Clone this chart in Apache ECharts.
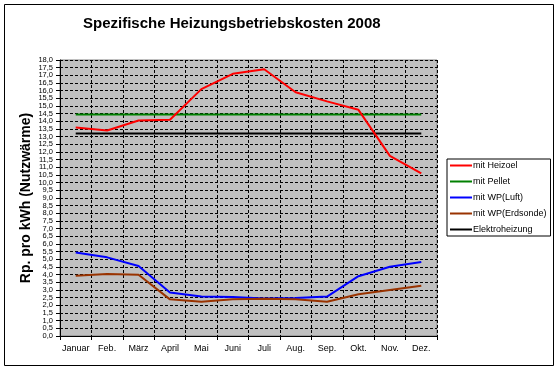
<!DOCTYPE html>
<html>
<head>
<meta charset="utf-8">
<script src="https://cdn.jsdelivr.net/npm/echarts@6/dist/echarts.min.js"></script>
<style>html,body{margin:0;padding:0;background:#fff}#c{width:560px;height:372px}</style>
</head>
<body>
<div id="c"></div>
<script>
var months = ['Januar','Feb.','März','April','Mai','Juni','Juli','Aug.','Sep.','Okt.','Nov.','Dez.'];
var heizoel = [13.6, 13.4, 14.05, 14.1, 16.1, 17.1, 17.4, 15.9, 15.3, 14.75, 11.75, 10.6];
var pellet = [14.45, 14.45, 14.45, 14.45, 14.45, 14.45, 14.45, 14.45, 14.45, 14.45, 14.45, 14.45];
var wpLuft = [5.45, 5.13, 4.57, 2.83, 2.57, 2.54, 2.45, 2.48, 2.57, 3.9, 4.52, 4.83];
var wpErd = [3.93, 4.04, 4.0, 2.39, 2.24, 2.39, 2.43, 2.39, 2.24, 2.72, 3.0, 3.28];
var elektro = [13.2, 13.2, 13.2, 13.2, 13.2, 13.2, 13.2, 13.2, 13.2, 13.2, 13.2, 13.2];
var seriesNames = ['mit Heizoel','mit Pellet','mit WP(Luft)','mit WP(Erdsonde)','Elektroheizung'];
var seriesColors = ['#ff0000','#008000','#0000ff','#993300','#000000'];
var seriesData = [heizoel, pellet, wpLuft, wpErd, elektro];
var yMin = 0, yMax = 18, yStep = 0.5;
var nearEnds = [yMin + yStep, yMax - yStep];

var chart = echarts.init(document.getElementById('c'), null, {renderer:'canvas'});
var font = 'Liberation Sans, Arial, sans-serif';
function fmt(v){ return v.toFixed(1).replace('.', ','); }
function isNearEnd(v){ return nearEnds.some(function(n){ return Math.abs(n - v) < 1e-6; }); }
chart.setOption({
  animation: false,
  backgroundColor: '#ffffff',
  title: {
    text: 'Spezifische Heizungsbetriebskosten 2008',
    left: 83, top: 16, padding: 0,
    textStyle: {fontFamily: font, fontSize: 15, fontWeight: 'bold', color: '#000'}
  },
  graphic: [{
    type: 'rect', shape: {x: 4.5, y: 4.5, width: 549, height: 361},
    style: {fill: 'none', stroke: '#000', lineWidth: 1}, z: 100
  }],
  legend: {
    orient: 'vertical', left: 447, top: 159,
    data: seriesNames,
    icon: 'rect', itemWidth: 22, itemHeight: 2, itemGap: 7,
    padding: [2, 4, 2, 3],
    borderColor: '#000', borderWidth: 1, backgroundColor: '#fff',
    textStyle: {fontFamily: font, fontSize: 9, color: '#000', padding: [0,0,0,-4]}
  },
  grid: {
    left: 60, top: 60, right: 123, bottom: 36,
    show: true, backgroundColor: '#c0c0c0', borderColor: '#808080', borderWidth: 1
  },
  xAxis: {
    type: 'category', data: months, boundaryGap: true,
    axisLine: {lineStyle: {color: '#000', width: 1}},
    axisTick: {show: true, length: 4, interval: 0, lineStyle: {color: '#000'}},
    axisLabel: {fontFamily: font, fontSize: 9, color: '#000', margin: 8, interval: 0},
    splitLine: {show: true, interval: 0, lineStyle: {color: '#000', type: [3,2], width: 1}}
  },
  yAxis: [{
    type: 'value', min: yMin, max: yMax, interval: yStep,
    name: 'Rp. pro kWh (Nutzwärme)', nameLocation: 'middle', nameGap: 27,
    nameMoveOverlap: false,
    nameTextStyle: {fontFamily: font, fontSize: 14, fontWeight: 'bold', color: '#000'},
    axisLine: {show: true, lineStyle: {color: '#000', width: 1}},
    axisTick: {show: true, length: 4, lineStyle: {color: '#000'}},
    axisLabel: {fontFamily: font, fontSize: 7.5, color: '#000', margin: 7,
      showMinLabel: true, showMaxLabel: true,
      formatter: function(v){ return isNearEnd(v) ? '' : fmt(v); }},
    splitLine: {show: true, lineStyle: {color: '#000', type: [3,2], width: 1}}
  }, {
    type: 'value', min: yMin, max: yMax, interval: yStep, position: 'left',
    axisLine: {show: false}, axisTick: {show: false}, splitLine: {show: false},
    axisLabel: {fontFamily: font, fontSize: 7.5, color: '#000', margin: 7,
      formatter: function(v){ return isNearEnd(v) ? fmt(v) : ''; }}
  }],
  series: seriesNames.map(function(n, i){
    return {
      name: n, type: 'line', data: seriesData[i], yAxisIndex: 0,
      showSymbol: false, symbol: 'none',
      lineStyle: {color: seriesColors[i], width: 2},
      itemStyle: {color: seriesColors[i]},
      z: i === 1 || i === 4 ? 2 : 3
    };
  })
});
</script>
</body>
</html>
